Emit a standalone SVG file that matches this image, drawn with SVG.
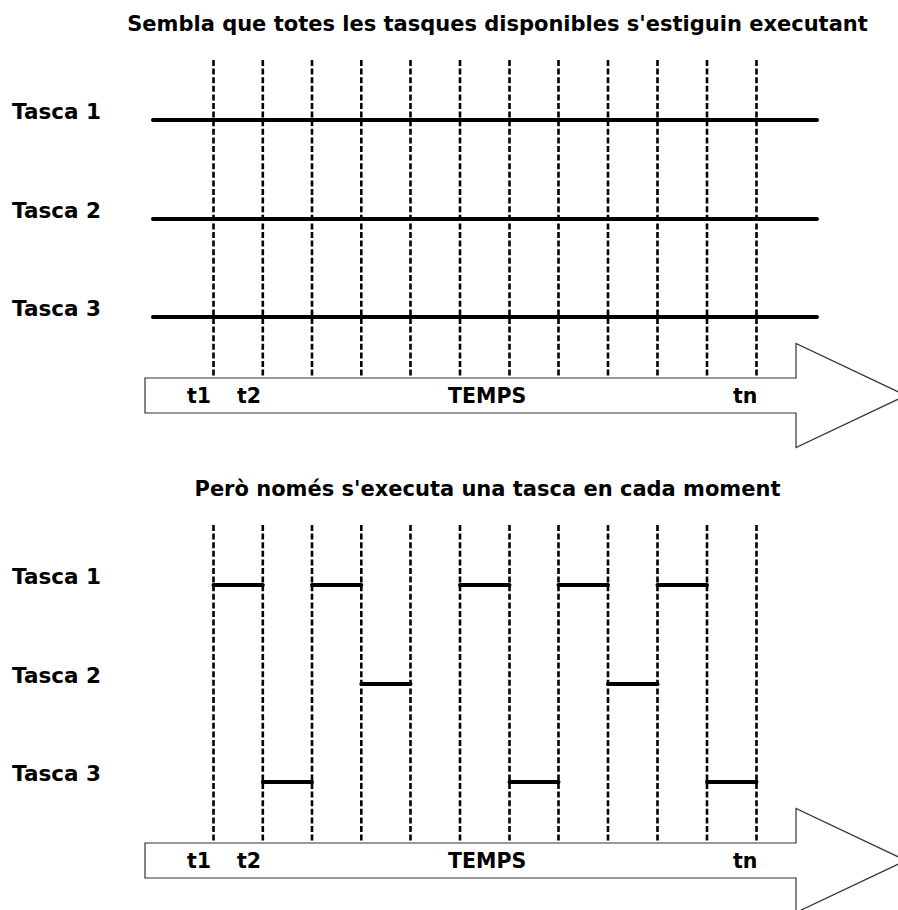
<svg xmlns="http://www.w3.org/2000/svg" width="898" height="910" viewBox="0 0 898 910">
  <style>
    text { font-family: "DejaVu Sans", Verdana, sans-serif; font-weight: bold; fill: #000; }
    .title { font-size: 21px; text-anchor: middle; }
    .label { font-size: 21.5px; }
    .tick { font-size: 20.5px; }
    .grid { stroke: #000; stroke-width: 2.6; stroke-dasharray: 6 2.6; fill: none; }
    .task { stroke: #000; stroke-width: 4; stroke-linecap: round; fill: none; }
    .axis { fill: #fff; stroke: #333; stroke-width: 1.2; }
  </style>
  <defs>
    <!-- time axis: block arrow pointing right -->
    <path id="timeArrow" class="axis" d="M145,0 H796 V-34.5 L906,17.5 L796,69.5 V35 H145 Z"/>
  </defs>

  <rect width="898" height="910" fill="#fff"/>

  <!-- ===== Top panel: every task appears to run ===== -->
  <g id="panel-top">
    <text class="title" x="497.5" y="30.5">Sembla que totes les tasques disponibles s'estiguin executant</text>

    <g id="axis-top">
      <use href="#timeArrow" y="378"/>
      <text class="tick" x="187" y="403">t1</text>
      <text class="tick" x="237" y="403">t2</text>
      <text class="tick" x="448" y="403">TEMPS</text>
      <text class="tick" x="733" y="403">tn</text>
    </g>

    <g id="tasks-top">
      <g id="top-tasca-1">
        <text class="label" x="12" y="119">Tasca 1</text>
        <line class="task" x1="153" y1="120" x2="817" y2="120"/>
      </g>
      <g id="top-tasca-2">
        <text class="label" x="12" y="218">Tasca 2</text>
        <line class="task" x1="153" y1="219" x2="817" y2="219"/>
      </g>
      <g id="top-tasca-3">
        <text class="label" x="12" y="316">Tasca 3</text>
        <line class="task" x1="153" y1="317" x2="817" y2="317"/>
      </g>
    </g>

    <g id="ticks-top">
      <line class="grid" x1="213.5" y1="60" x2="213.5" y2="378"/>
      <line class="grid" x1="262.8" y1="60" x2="262.8" y2="378"/>
      <line class="grid" x1="312" y1="60" x2="312" y2="378"/>
      <line class="grid" x1="361.3" y1="60" x2="361.3" y2="378"/>
      <line class="grid" x1="410.5" y1="60" x2="410.5" y2="378"/>
      <line class="grid" x1="460" y1="60" x2="460" y2="378"/>
      <line class="grid" x1="509.5" y1="60" x2="509.5" y2="378"/>
      <line class="grid" x1="558.5" y1="60" x2="558.5" y2="378"/>
      <line class="grid" x1="608" y1="60" x2="608" y2="378"/>
      <line class="grid" x1="657.5" y1="60" x2="657.5" y2="378"/>
      <line class="grid" x1="707" y1="60" x2="707" y2="378"/>
      <line class="grid" x1="756.5" y1="60" x2="756.5" y2="378"/>
    </g>
  </g>

  <!-- ===== Bottom panel: one task per time slice ===== -->
  <g id="panel-bottom">
    <text class="title" x="487.5" y="496">Però només s'executa una tasca en cada moment</text>

    <g id="axis-bottom">
      <use href="#timeArrow" y="843"/>
      <text class="tick" x="187" y="868">t1</text>
      <text class="tick" x="237" y="868">t2</text>
      <text class="tick" x="448" y="868">TEMPS</text>
      <text class="tick" x="733" y="868">tn</text>
    </g>

    <g id="ticks-bottom">
      <line class="grid" x1="213.5" y1="525" x2="213.5" y2="843"/>
      <line class="grid" x1="262.8" y1="525" x2="262.8" y2="843"/>
      <line class="grid" x1="312" y1="525" x2="312" y2="843"/>
      <line class="grid" x1="361.3" y1="525" x2="361.3" y2="843"/>
      <line class="grid" x1="410.5" y1="525" x2="410.5" y2="843"/>
      <line class="grid" x1="460" y1="525" x2="460" y2="843"/>
      <line class="grid" x1="509.5" y1="525" x2="509.5" y2="843"/>
      <line class="grid" x1="558.5" y1="525" x2="558.5" y2="843"/>
      <line class="grid" x1="608" y1="525" x2="608" y2="843"/>
      <line class="grid" x1="657.5" y1="525" x2="657.5" y2="843"/>
      <line class="grid" x1="707" y1="525" x2="707" y2="843"/>
      <line class="grid" x1="756.5" y1="525" x2="756.5" y2="843"/>
    </g>

    <g id="tasks-bottom">
      <g id="bottom-tasca-1">
        <text class="label" x="12" y="584">Tasca 1</text>
        <line class="task" x1="213.5" y1="585" x2="262.8" y2="585"/>
        <line class="task" x1="312" y1="585" x2="361.3" y2="585"/>
        <line class="task" x1="460" y1="585" x2="509.5" y2="585"/>
        <line class="task" x1="558.5" y1="585" x2="608" y2="585"/>
        <line class="task" x1="657.5" y1="585" x2="707" y2="585"/>
      </g>
      <g id="bottom-tasca-2">
        <text class="label" x="12" y="683">Tasca 2</text>
        <line class="task" x1="361.3" y1="684" x2="410.5" y2="684"/>
        <line class="task" x1="608" y1="684" x2="657.5" y2="684"/>
      </g>
      <g id="bottom-tasca-3">
        <text class="label" x="12" y="781">Tasca 3</text>
        <line class="task" x1="262.8" y1="782" x2="312" y2="782"/>
        <line class="task" x1="509.5" y1="782" x2="558.5" y2="782"/>
        <line class="task" x1="707" y1="782" x2="756.5" y2="782"/>
      </g>
    </g>
  </g>
</svg>
